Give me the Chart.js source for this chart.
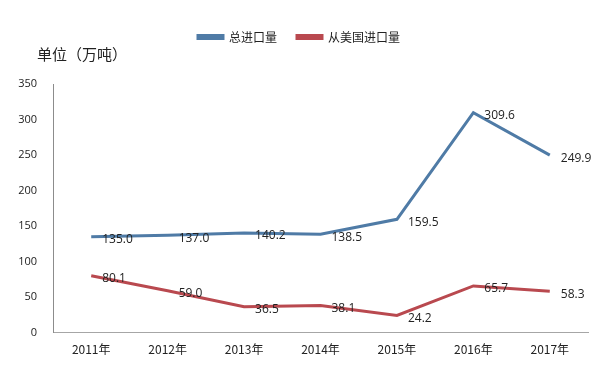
<!DOCTYPE html>
<html>
<head>
<meta charset="utf-8">
<script src="https://cdn.jsdelivr.net/npm/chart.js@4"></script>
<style>
  html, body { margin: 0; padding: 0; background: #fff; }
  #wrap { width: 604px; height: 369px; position: relative; }
</style>
</head>
<body>
<div id="wrap"><canvas id="chart"></canvas></div>
<script>
const years = ['2011年', '2012年', '2013年', '2014年', '2015年', '2016年', '2017年'];
const totalImports = [135.0, 137.0, 140.2, 138.5, 159.5, 309.6, 249.9];
const usImports = [80.1, 59.0, 36.5, 38.1, 24.2, 65.7, 58.3];
const seriesNames = ['总进口量', '从美国进口量'];
const unitLabel = '单位（万吨）';

const CJK = '"Noto Sans CJK SC", "Open Sans", sans-serif';
const NUM = '"Open Sans", "Noto Sans CJK SC", sans-serif';

// room between legend and plot for the unit label
const legendGap = {
    id: 'legendGap',
    beforeInit(chart) {
        const fit = chart.legend.fit;
        chart.legend.fit = function () {
            fit.call(this);
            this.height += 31;
        };
    },
};

// unit label + value labels next to each point
const labels = {
    id: 'labels',
    afterDatasetsDraw(chart) {
        const ctx = chart.ctx;
        ctx.save();
        ctx.fillStyle = '#222';
        ctx.font = '15px ' + CJK;
        ctx.textBaseline = 'middle';
        ctx.textAlign = 'left';
        ctx.fillText(unitLabel, 37, 54);

        ctx.font = '12px ' + NUM;
        chart.data.datasets.forEach((ds, i) => {
            chart.getDatasetMeta(i).data.forEach((pt, j) => {
                ctx.fillText(ds.data[j].toFixed(1), pt.x + 11, pt.y + 3);
            });
        });
        ctx.restore();
    },
};

new Chart(document.getElementById('chart'), {
    type: 'line',
    data: {
        labels: years,
        datasets: [
            {
                label: seriesNames[0],
                data: totalImports,
                borderColor: '#4f7ba6',
                backgroundColor: '#4f7ba6',
                borderWidth: 3,
                pointRadius: 0,
                tension: 0,
            },
            {
                label: seriesNames[1],
                data: usImports,
                borderColor: '#b9494f',
                backgroundColor: '#b9494f',
                borderWidth: 3,
                pointRadius: 0,
                tension: 0,
            },
        ],
    },
    options: {
        responsive: true,
        maintainAspectRatio: false,
        animation: false,
        layout: { padding: { top: 11, right: 16, bottom: 2, left: 10 } },
        plugins: {
            legend: {
                position: 'top',
                labels: {
                    color: '#222',
                    font: { family: CJK, size: 12 },
                    boxWidth: 25,
                    boxHeight: 3,
                    padding: 20,
                },
            },
            tooltip: { enabled: false },
        },
        scales: {
            x: {
                offset: true,
                grid: { display: false, drawTicks: false },
                border: { color: '#a6a6a6', width: 1 },
                ticks: { color: '#222', font: { family: CJK, size: 12 }, padding: 10, maxRotation: 0 },
            },
            y: {
                min: 0,
                max: 350,
                afterFit: (scale) => { scale.width = 43; },
                grid: { display: false, drawTicks: false },
                border: { color: '#8c8c8c', width: 1 },
                ticks: { color: '#222', font: { family: NUM, size: 11 }, stepSize: 50, padding: 16 },
            },
        },
    },
    plugins: [legendGap, labels],
});
</script>
</body>
</html>
